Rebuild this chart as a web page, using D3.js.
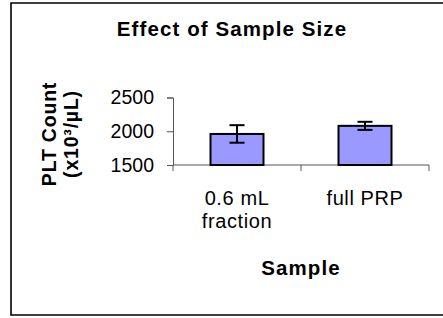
<!DOCTYPE html>
<html>
<head>
<meta charset="utf-8">
<script src="https://cdn.jsdelivr.net/npm/d3@7"></script>
<style>
  html, body { margin: 0; background: #fff; overflow: hidden; }
  svg { display: block; }
  text { font-family: "Liberation Sans", Arial, sans-serif; fill: #000; }
</style>
</head>
<body>
<div id="chart"></div>
<script>
// chart data
var categories = [["0.6 mL", "fraction"], ["full PRP"]];
var means = [1960, 2080];   // PLT count
var errors = [130, 60];     // +/- error bar
var yTicks = [1500, 2000, 2500];

var barFill = "#9999FF";
var width = 443, height = 318;

var svg = d3.select("#chart").append("svg")
  .attr("width", width)
  .attr("height", height);

// outer frame: left, top and bottom only, the right side is cut off
svg.append("path")
  .attr("d", d3.line()([[width + 5, 3], [11, 3], [11, 315], [width + 5, 315]]))
  .attr("fill", "none")
  .attr("stroke", "#000")
  .attr("stroke-width", 1.6);

var plot = { left: 173, right: 429, top: 97.5, bottom: 165 };

var x = d3.scaleBand()
  .domain(d3.range(categories.length))
  .range([plot.left, plot.right])
  .paddingInner(0.586)
  .paddingOuter(0.293);

var y = d3.scaleLinear()
  .domain([1500, 2500])
  .range([plot.bottom, plot.top]);

// title
svg.append("text")
  .attr("x", 232).attr("y", 35.5)
  .attr("text-anchor", "middle")
  .style("font-size", "20.5px").style("font-weight", "bold")
  .style("letter-spacing", "1.1px")
  .text("Effect of Sample Size");

// y axis
var yAxis = svg.append("g")
  .attr("transform", "translate(" + plot.left + ",0)")
  .call(d3.axisLeft(y).tickValues(yTicks).tickSize(6).tickPadding(13).tickFormat(d3.format("d")));
yAxis.select(".domain").attr("stroke", "#555");
yAxis.selectAll(".tick line").attr("stroke", "#555");
yAxis.selectAll(".tick text")
  .attr("font-family", null).attr("font-size", null)
  .style("font-size", "19.5px");

// x axis line and ticks at category boundaries
svg.append("line")
  .attr("x1", plot.left).attr("x2", plot.right)
  .attr("y1", plot.bottom).attr("y2", plot.bottom)
  .attr("stroke", "#555");
var bounds = d3.range(categories.length + 1).map(function(i) {
  return plot.left + i * x.step();
});
svg.selectAll("line.xtick")
  .data(bounds)
  .enter().append("line")
  .attr("class", "xtick")
  .attr("x1", d => d).attr("x2", d => d)
  .attr("y1", plot.bottom).attr("y2", plot.bottom + 6)
  .attr("stroke", "#555");

// bars
svg.selectAll("rect.bar")
  .data(means)
  .enter().append("rect")
  .attr("class", "bar")
  .attr("x", (d, i) => x(i))
  .attr("y", d => y(d))
  .attr("width", x.bandwidth())
  .attr("height", d => y(1500) - y(d))
  .attr("fill", barFill)
  .attr("stroke", "#000")
  .attr("stroke-width", 2);

// error bars
var err = svg.selectAll("g.err")
  .data(means)
  .enter().append("g")
  .attr("class", "err")
  .attr("stroke", "#000")
  .attr("stroke-width", 2);
err.append("line")
  .attr("x1", (d, i) => x(i) + x.bandwidth() / 2)
  .attr("x2", (d, i) => x(i) + x.bandwidth() / 2)
  .attr("y1", (d, i) => y(d + errors[i]))
  .attr("y2", (d, i) => y(d - errors[i]));
[1, -1].forEach(function(s) {
  err.append("line")
    .attr("x1", (d, i) => x(i) + x.bandwidth() / 2 - 7.5)
    .attr("x2", (d, i) => x(i) + x.bandwidth() / 2 + 7.5)
    .attr("y1", (d, i) => y(d + s * errors[i]))
    .attr("y2", (d, i) => y(d + s * errors[i]));
});

// category labels
svg.selectAll("text.cat")
  .data(categories)
  .enter().append("text")
  .attr("class", "cat")
  .attr("text-anchor", "middle")
  .style("font-size", "20px")
  .style("letter-spacing", "0.6px")
  .each(function(lines, i) {
    var t = d3.select(this);
    lines.forEach(function(l, j) {
      t.append("tspan")
        .attr("x", x(i) + x.bandwidth() / 2)
        .attr("y", 205 + j * 22.5)
        .text(l);
    });
  });

// x axis title
svg.append("text")
  .attr("x", 301).attr("y", 275)
  .attr("text-anchor", "middle")
  .style("font-size", "20.5px").style("font-weight", "bold")
  .style("letter-spacing", "1.1px")
  .text("Sample");

// y axis title
var yt = svg.append("text")
  .attr("transform", "translate(56,134) rotate(-90)")
  .attr("text-anchor", "middle")
  .style("font-size", "19.5px").style("font-weight", "bold")
  .style("letter-spacing", "0.8px");
yt.append("tspan").attr("x", 0).attr("y", 0).text("PLT Count");
yt.append("tspan").attr("x", 0).attr("y", 22).text("(x10³/µL)");
</script>
</body>
</html>
